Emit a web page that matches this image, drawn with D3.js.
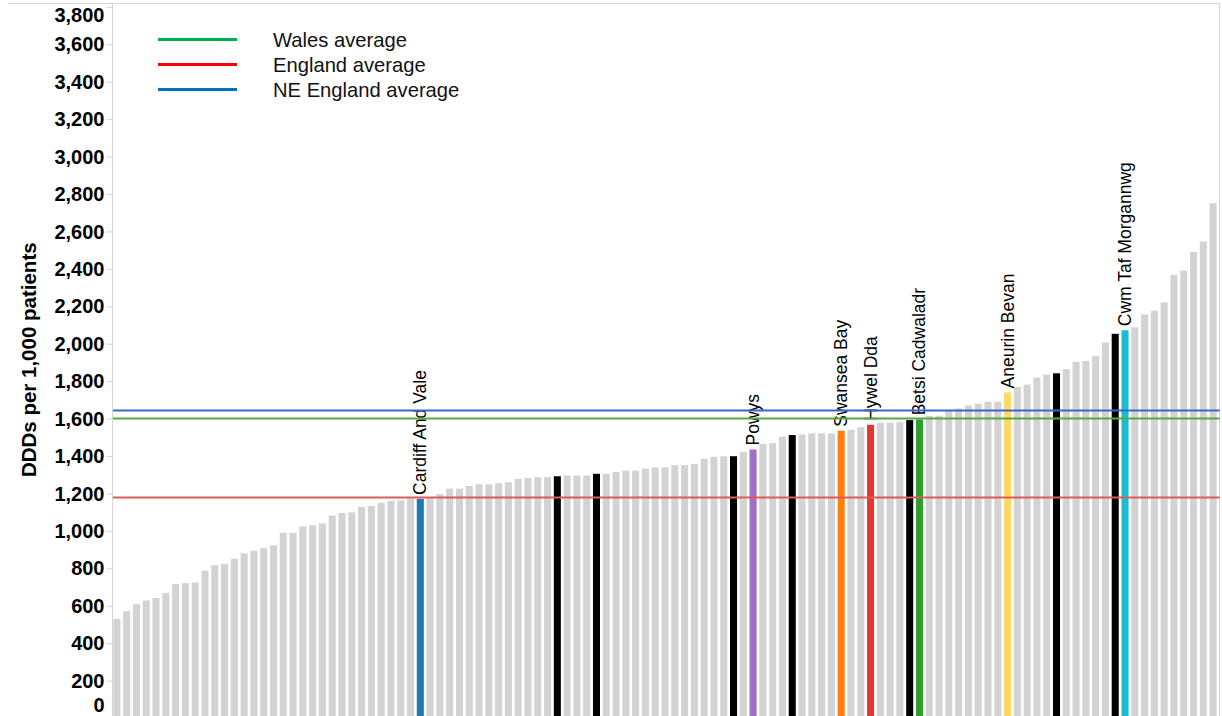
<!DOCTYPE html>
<html>
<head>
<meta charset="utf-8">
<script src="https://cdn.jsdelivr.net/npm/d3@7"></script>
<style>
  html, body { margin: 0; padding: 0; background: #fff; }
  svg { display: block; font-family: "Liberation Sans", Arial, sans-serif; }
</style>
</head>
<body>
<svg id="chart" width="1222" height="716"></svg>
<script>
// ---------------- DATA ----------------
const values = [
  530, 571, 608, 628, 642, 669, 716, 721, 725, 787,
  817, 824, 851, 880, 894, 908, 923, 990, 990, 1024,
  1030, 1040, 1082, 1096, 1099, 1128, 1133, 1151, 1160, 1163,
  1171, 1171, 1181, 1197, 1226, 1226, 1240, 1249, 1249, 1255,
  1260, 1278, 1283, 1287, 1287, 1292, 1296, 1296, 1296, 1305,
  1305, 1315, 1322, 1322, 1333, 1339, 1339, 1351, 1351, 1358,
  1385, 1396, 1399, 1399, 1422, 1435, 1465, 1469, 1503, 1512,
  1515, 1521, 1521, 1521, 1535, 1540, 1554, 1567, 1578, 1578,
  1583, 1592, 1596, 1615, 1615, 1644, 1654, 1670, 1680, 1690,
  1690, 1740, 1769, 1782, 1819, 1835, 1842, 1864, 1904, 1908,
  1935, 2007, 2053, 2072, 2088, 2157, 2177, 2221, 2368, 2391,
  2490, 2546, 2751
];
const categories = values.map((v, i) => "Area " + (i + 1));

// Welsh health boards (rank position in the sorted list)
const boardRanks = [31, 65, 74, 77, 82, 91, 103];
const boardNames = ["Cardiff And Vale", "Powys", "Swansea Bay", "Hywel Dda",
                    "Betsi Cadwaladr", "Aneurin Bevan", "Cwm Taf Morgannwg"];
// other highlighted (black) bars
const blackRanks = [45, 49, 63, 69, 81, 96, 102];

const refNames = ["Wales average", "England average", "NE England average"];
const refValues = [1602, 1183, 1646];

const yTicks = [0, 200, 400, 600, 800, 1000, 1200, 1400, 1600, 1800, 2000,
                2200, 2400, 2600, 2800, 3000, 3200, 3400, 3600, 3800];
const yTitle = "DDDs per 1,000 patients";

// ---------------- STYLE ----------------
const boardColors = ["#1f77b4", "#a06fc6", "#ff7f0e", "#e0392b", "#2ca02c", "#ffd966", "#17becf"];
const refLineColors = ["#5aa641", "#e05a5a", "#3a67c9"];
const legendColors = ["#00b050", "#ff0000", "#0070c0"];

const svg = d3.select("#chart");
const W = 1222, H = 716;
const plotLeft = 112.5, plotRight = 1219.5, plotTop = 3.5, plotBottom = 716;

const x = d3.scaleBand().domain(categories).range([112, 1218]).paddingInner(0.28).paddingOuter(0.14);
const y = d3.scaleLinear().domain([0, 3800]).range([718.1, 6.8]);

// frame
svg.append("line").attr("x1", 8).attr("x2", plotRight).attr("y1", plotTop).attr("y2", plotTop)
  .attr("stroke", "#d4d4d4").attr("stroke-width", 1);
svg.append("line").attr("x1", plotRight).attr("x2", plotRight).attr("y1", plotTop).attr("y2", H)
  .attr("stroke", "#d4d4d4").attr("stroke-width", 1);

// bars
const colorOf = i => {
  const b = boardRanks.indexOf(i);
  if (b >= 0) return boardColors[b];
  if (blackRanks.includes(i)) return "#000000";
  return "#d3d3d3";
};
svg.append("g").selectAll("rect").data(values).join("rect")
  .attr("x", (d, i) => x(categories[i]))
  .attr("width", x.bandwidth())
  .attr("y", d => y(d))
  .attr("height", d => y(0) - y(d))
  .attr("fill", (d, i) => colorOf(i));

// bar labels
svg.append("g").selectAll("text").data(boardRanks).join("text")
  .attr("transform", (r, k) => {
    const cx = x(categories[r]) + x.bandwidth() / 2 + 6;
    const ty = y(values[r]) - 4;
    return `translate(${cx},${ty}) rotate(-90)`;
  })
  .attr("font-size", 17.5)
  .attr("fill", "#000")
  .text((r, k) => boardNames[k]);

// reference lines (drawn above labels)
svg.append("g").selectAll("line").data(refValues).join("line")
  .attr("x1", plotLeft).attr("x2", plotRight)
  .attr("y1", d => Math.round(y(d)) + 0.5).attr("y2", d => Math.round(y(d)) + 0.5)
  .attr("stroke", (d, i) => refLineColors[i]).attr("stroke-width", 2);

// y axis
const yAxis = d3.axisLeft(y).tickValues(yTicks).tickFormat(d3.format(",")).tickSize(6).tickPadding(2);
const gy = svg.append("g").attr("transform", `translate(${plotLeft},0)`).call(yAxis);
gy.select(".domain").remove();
gy.selectAll(".tick line").attr("stroke", "#d4d4d4");
gy.selectAll(".tick text").attr("font-size", 20).attr("font-weight", "bold")
  .attr("fill", "#000").attr("font-family", "Liberation Sans, Arial, sans-serif");
// clamp edge labels inside the visible area (as in the original)
gy.selectAll(".tick text").attr("dy", function(d) {
  const ty = y(d);
  if (ty < 15) return (15 - ty + 6.6) + "px";
  if (ty > 705) return (705 - ty + 6.6) + "px";
  return "0.33em";
});
svg.append("line").attr("x1", plotLeft).attr("x2", plotLeft).attr("y1", plotTop).attr("y2", H)
  .attr("stroke", "#d4d4d4").attr("stroke-width", 1);

// y title
svg.append("text")
  .attr("transform", `translate(36,${(plotTop + plotBottom) / 2}) rotate(-90)`)
  .attr("text-anchor", "middle")
  .attr("font-size", 20.5).attr("font-weight", "bold").attr("fill", "#000")
  .text(yTitle);

// legend
const lg = svg.append("g");
refNames.forEach((name, i) => {
  const ly = 39.5 + i * 25;
  lg.append("line").attr("x1", 158).attr("x2", 237).attr("y1", ly).attr("y2", ly)
    .attr("stroke", legendColors[i]).attr("stroke-width", 3);
  lg.append("text").attr("x", 273).attr("y", ly + 7.3)
    .attr("font-size", 20.2).attr("fill", "#111").text(name);
});
</script>
</body>
</html>
